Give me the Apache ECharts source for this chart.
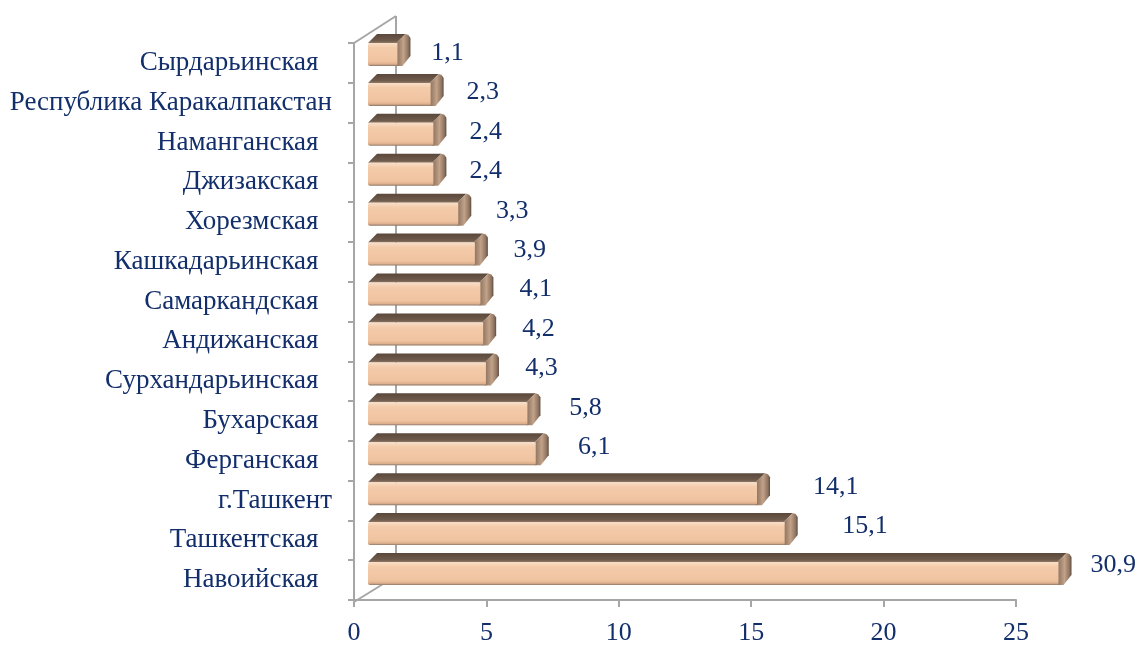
<!DOCTYPE html>
<html>
<head>
<meta charset="utf-8">
<script src="https://cdn.jsdelivr.net/npm/echarts@6/dist/echarts.min.js"></script>
<style>
  html, body { margin: 0; padding: 0; background: #fff; }
  #chart { width: 1141px; height: 646px; }
</style>
</head>
<body>
<div id="chart"></div>
<script>
// regions, top to bottom (trailing spaces as in the source sheet)
const regions = [
  'Сырдарьинская  ',
  'Республика Каракалпакстан',
  'Наманганская  ',
  'Джизакская  ',
  'Хорезмская  ',
  'Кашкадарьинская  ',
  'Самаркандская  ',
  'Андижанская  ',
  'Сурхандарьинская  ',
  'Бухарская  ',
  'Ферганская  ',
  'г.Ташкент',
  'Ташкентская  ',
  'Навоийская  '
]
const shares = [1.1, 2.3, 2.4, 2.4, 3.3, 3.9, 4.1, 4.2, 4.3, 5.8, 6.1, 14.1, 15.1, 30.9]
const xMin = 0
const xMax = 25
const xStep = 5

const navy = '#132f6b'
const font = '"Liberation Serif", "Times New Roman", serif'
const axisGray = '#a6a6a6'

const fmt = (v) => v.toFixed(1).replace('.', ',')

function renderBar (params, api) {
  const v = api.value(0)
  const i = api.value(1)
  const zero = api.coord([0, i])
  const end = api.coord([Math.min(v, xMax), i])
  const h = 23
  const dx = 9
  const dy = 9
  const cap = 14
  const cy = zero[1]
  const yF = cy - h / 2 + 1.5
  const yB = cy + h / 2 + 1.5
  const x0 = zero[0] - 12
  const xe = end[0] - cap
  const labelX = end[0] + 19 + (v <= xMax ? 1.7 * v : 0)
  return {
    type: 'group',
    children: [
      {
        // top face
        type: 'polygon',
        shape: { points: [[x0, yF], [x0 + dx, yF - dy], [xe + dx, yF - dy], [xe, yF]] },
        style: {
          fill: new echarts.graphic.LinearGradient(0, 0, 0, 1, [
            { offset: 0, color: '#5a483b' },
            { offset: 0.75, color: '#6f5b4c' },
            { offset: 1, color: '#8f7866' }
          ])
        }
      },
      {
        // rounded right end
        type: 'polygon',
        shape: { points: [[xe, yF], [xe + dx, yF - dy], [xe + cap - 2, yF - dy + 1], [xe + cap, yF - 5], [xe + cap, yB - 10], [xe + 6, yB], [xe, yB]] },
        style: {
          fill: new echarts.graphic.LinearGradient(0, 0, 1, 0, [
            { offset: 0, color: '#8a705d' },
            { offset: 0.5, color: '#c2a288' },
            { offset: 0.85, color: '#8e7461' },
            { offset: 1, color: '#5f4b3d' }
          ])
        }
      },
      {
        // front face
        type: 'rect',
        shape: { x: x0, y: yF, width: xe - x0 + 1, height: h, r: [2, 0, 0, 2] },
        style: {
          fill: new echarts.graphic.LinearGradient(0, 0, 0, 1, [
            { offset: 0, color: '#f9dfc8' },
            { offset: 0.2, color: '#f4ccab' },
            { offset: 0.8, color: '#efc3a0' },
            { offset: 0.92, color: '#deb08d' },
            { offset: 1, color: '#8a7566' }
          ])
        }
      },
      {
        type: 'text',
        style: {
          x: labelX,
          y: cy - i * 0.5,
          text: fmt(v),
          fill: navy,
          font: '26px ' + font,
          verticalAlign: 'middle',
          align: 'left'
        }
      }
    ]
  }
}

const chart = echarts.init(document.getElementById('chart'))
chart.setOption({
  backgroundColor: '#fff',
  animation: false,
  grid: [
    { left: 354, right: 125, top: 43, bottom: 44 },
    { left: 380, right: 69.5, top: 33, bottom: 54 }
  ],
  xAxis: [
    {
      type: 'value',
      gridIndex: 0,
      min: xMin,
      max: xMax,
      interval: xStep,
      splitLine: { show: false },
      axisLine: { show: true, lineStyle: { color: axisGray, width: 2 } },
      axisTick: { show: true, length: 7, lineStyle: { color: axisGray, width: 2 } },
      axisLabel: { color: navy, fontFamily: font, fontSize: 26, margin: 20 }
    },
    {
      type: 'value',
      gridIndex: 1,
      min: xMin,
      max: xMax,
      show: false
    }
  ],
  yAxis: [
    {
      type: 'category',
      gridIndex: 0,
      inverse: true,
      data: regions,
      axisLine: { show: true, lineStyle: { color: axisGray, width: 2 } },
      axisTick: { show: true, length: 6, lineStyle: { color: axisGray, width: 2 } },
      axisLabel: { color: navy, fontFamily: font, fontSize: 27, margin: 22 }
    },
    {
      type: 'category',
      gridIndex: 1,
      inverse: true,
      data: regions,
      show: false
    }
  ],
  graphic: [
    { type: 'line', z: 0, shape: { x1: 354, y1: 43, x2: 396, y2: 16 }, style: { stroke: axisGray, lineWidth: 2 } },
    { type: 'line', z: 0, shape: { x1: 396, y1: 16, x2: 396, y2: 576 }, style: { stroke: axisGray, lineWidth: 2 } },
    { type: 'line', z: 0, shape: { x1: 354, y1: 602, x2: 396, y2: 576 }, style: { stroke: axisGray, lineWidth: 2 } }
  ],
  series: [
    {
      type: 'custom',
      xAxisIndex: 1,
      yAxisIndex: 1,
      z: 5,
      renderItem: renderBar,
      encode: { x: 0, y: 1 },
      data: shares.map((v, i) => [v, i])
    }
  ]
})
</script>
</body>
</html>
